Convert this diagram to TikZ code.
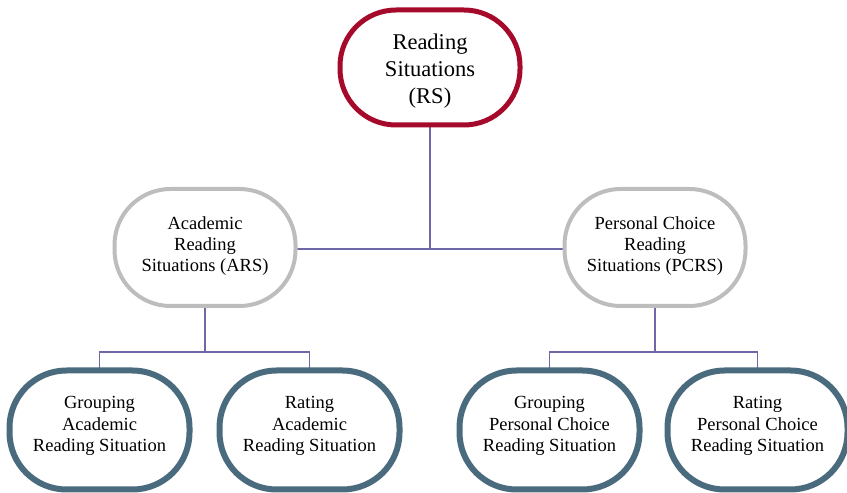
\documentclass[tikz,border=0pt]{standalone}
\usepackage{fontspec}
\setmainfont{Liberation Serif}
\definecolor{rsred}{HTML}{A50A2A}
\definecolor{midgray}{HTML}{BDBDBD}
\definecolor{slate}{HTML}{4A6A7E}
\definecolor{conn}{HTML}{6E68A6}
% rounded border drawn round a node: #1 node name, #2 style, #3 corner radius
\newcommand\rrborder[3]{%
  \draw[#2] ([xshift=#3]#1.north west) -- ([xshift=-#3]#1.north east)
    arc[start angle=90,end angle=0,radius=#3] -- ([yshift=#3]#1.south east)
    arc[start angle=0,end angle=-90,radius=#3] -- ([xshift=#3]#1.south west)
    arc[start angle=270,end angle=180,radius=#3] -- ([yshift=-#3]#1.north west)
    arc[start angle=180,end angle=90,radius=#3] -- cycle;}
\newcommand\topstrut{\rule{0pt}{22pt}}
\newcommand\botstrut{\rule[-12pt]{0pt}{12pt}}
\newcommand\midstrut{\rule[-6pt]{0pt}{6pt}}
\begin{document}
\begin{tikzpicture}[x=1pt,y=1pt,
  box/.style={align=center, inner sep=0pt, outer sep=0pt},
  topbox/.style={box, minimum width=180pt, minimum height=115pt, font=\fontsize{22.5}{27}\selectfont},
  midbox/.style={box, minimum width=181pt, minimum height=117pt, font=\fontsize{18.5}{21}\selectfont},
  botbox/.style={box, minimum width=180pt, minimum height=119pt, font=\fontsize{18.5}{21.5}\selectfont},
  topline/.style={draw=rsred, line width=5pt},
  midline/.style={draw=midgray, line width=4pt},
  botline/.style={draw=slate, line width=6pt},
  link/.style={draw=conn, line width=1.5pt}]
\useasboundingbox (0,0) rectangle (847,493);
\coordinate (midbar) at (0,244);
\coordinate (lowbar) at (0,141);
\node[topbox] (rs) at (430,425.5) {\topstrut Reading\\Situations\\(RS)};
\node[midbox] (ars) at (205,245.5) {Academic\\Reading\\Situations (ARS)\midstrut};
\node[midbox] (pcrs) at (655,245.5) {Personal Choice\\Reading\\Situations (PCRS)\midstrut};
\node[botbox] (gars) at (99.5,63) {Grouping\\Academic\\Reading Situation\botstrut};
\node[botbox] (rars) at (309.5,63) {Rating\\Academic\\Reading Situation\botstrut};
\node[botbox] (gpcrs) at (549.5,63) {Grouping\\Personal Choice\\Reading Situation\botstrut};
\node[botbox] (rpcrs) at (757.5,63) {Rating\\Personal Choice\\Reading Situation\botstrut};
\path[link] (rs.south) -- (rs.south |- midbar);
\path[link] (ars.east |- midbar) -- (pcrs.west |- midbar);
\path[link] (ars.south) -- (ars.south |- lowbar);
\path[link] (gars.north) -- (gars.north |- lowbar) -- (rars.north |- lowbar) -- (rars.north);
\path[link] (pcrs.south) -- (pcrs.south |- lowbar);
\path[link] (gpcrs.north) -- (gpcrs.north |- lowbar) -- (rpcrs.north |- lowbar) -- (rpcrs.north);
\rrborder{rs}{topline}{56pt}
\rrborder{ars}{midline}{56pt}
\rrborder{pcrs}{midline}{56pt}
\rrborder{gars}{botline}{57pt}
\rrborder{rars}{botline}{57pt}
\rrborder{gpcrs}{botline}{57pt}
\rrborder{rpcrs}{botline}{57pt}
\end{tikzpicture}
\end{document}
